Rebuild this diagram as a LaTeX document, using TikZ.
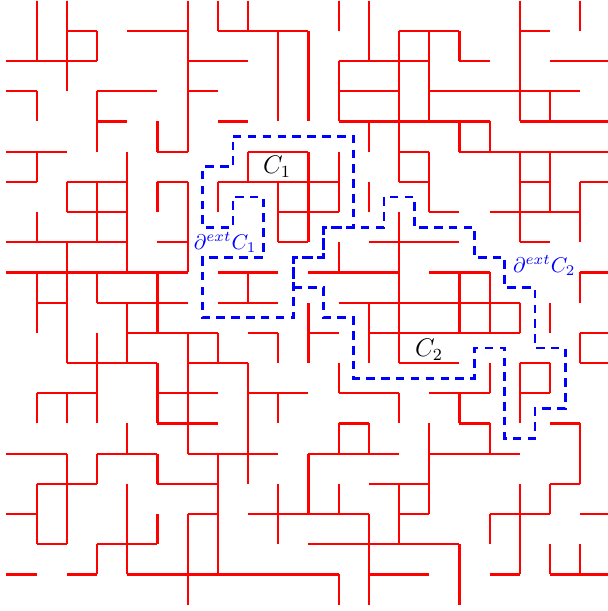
\documentclass[tikz,border=0pt]{standalone}
\usepackage{xcolor}
\usepackage{tikz}
\tikzstyle{openedge} = [red, line width=1pt]
\tikzstyle{dualpath} = [blue, line width=1.3pt, dash pattern=on 4pt off 3pt]
\tikzstyle{cluster}  = [font=\large, inner sep=1pt]
\tikzstyle{boundary} = [blue, inner sep=1pt]

\begin{document}
\begin{tikzpicture}[x=0.5cm, y=0.5cm]
  \useasboundingbox (-0.215,-0.209) rectangle (19.917,20.023);

  % Open horizontal edges (row j counted from the top)
  \foreach \j/\row in {1/{2,4,5,7,8,9,13,14,17},
                       2/{0,1,2,6,7,11,12,13,15,18,19},
                       3/{0,3,4,6,11,12,14,15,16,17,18},
                       4/{3,7,11,12,13,14,15,17,18,19},
                       5/{0,1,5,8,9,13,15,16,17,18,19},
                       6/{0,2,3,5,7,8,9,10,13,17,19},
                       7/{2,3,9,10,14,16,17,18},
                       8/{0,1,2,3,5,9,12,13,14,17},
                       9/{0,1,2,3,4,5,7,8,10,11,12,14,15,19},
                       10/{1,3,4,5,7,8,11,12,13,14,15,16},
                       11/{4,5,6,8,10,12,13,14,15,16,19},
                       12/{2,3,4,6,7,13,14,17,19},
                       13/{1,2,5,6,8,9,11,12,14,15,17},
                       14/{5,6,11,15,18},
                       15/{0,1,3,4,6,7,8,10,11,12,14,15,16},
                       16/{1,2,5,6,12,13,18},
                       17/{0,6,8,9,10,11,13,16,17,19},
                       18/{1,3,4,10,11,12,13,14},
                       19/{0,2,4,5,6,7,8,9,10,12,13,16,18,19}}
    \foreach \i in \row
      \draw[openedge] (\i,{20-\j}) -- ++(1,0);

  % Open vertical edges (column i, edge from row j down to row j+1)
  \foreach \i/\col in {1/{0,1,3,5,7,9,10,13,16,17},
                       2/{0,1,2,6,8,9,10,11,13,15,16,17},
                       3/{1,3,4,6,7,9,11,12,13,15,18},
                       4/{5,6,7,8,10,11,14,16,17,18},
                       5/{4,6,9,10,12,13,15,17},
                       6/{0,1,2,3,4,6,7,8,11,12,13,14,17,18,19},
                       7/{0,6,11,15,16,17,18},
                       8/{0,5,9,12,13,14,15},
                       9/{1,2,3,6,7,11,13,16,17},
                       10/{1,2,3,5,6,7,10,11,15,16},
                       11/{0,2,3,5,6,8,12,14,16,19},
                       12/{0,1,4,6,10,11,14,17,18,19},
                       13/{1,2,3,4,5,7,8,9,10,11,13,16,17},
                       14/{1,2,3,5,6,14,15,16},
                       15/{1,4,9,10,13,18,19},
                       16/{4,9,10,12,14,17},
                       17/{0,1,2,3,5,6,7,10,12,13,16,17,18},
                       18/{3,5,6,10,12,16,18},
                       19/{0,6,7,9,11,14,15,18}}
    \foreach \j in \col
      \draw[openedge] (\i,{20-\j}) -- ++(0,-1);

  % Exterior boundary of C1
  \draw[dualpath] (7.5,15.5) -- (11.5,15.5) -- (11.5,12.5) -- (10.5,12.5)
    -- (10.5,11.5) -- (9.5,11.5) -- (9.5,9.5) -- (6.5,9.5) -- (6.5,11.5)
    -- (8.5,11.5) -- (8.5,13.5) -- (7.5,13.5) -- (7.5,12.5) -- (6.5,12.5)
    -- (6.5,14.5) -- (7.5,14.5) -- cycle;

  % Exterior boundary of C2
  \draw[dualpath] (9.5,10.5) -- (10.5,10.5) -- (10.5,9.5) -- (11.5,9.5)
    -- (11.5,7.5) -- (15.5,7.5) -- (15.5,8.5) -- (16.5,8.5) -- (16.5,5.5)
    -- (17.5,5.5) -- (17.5,6.5) -- (18.5,6.5) -- (18.5,8.5) -- (17.5,8.5)
    -- (17.5,10.5) -- (16.5,10.5) -- (16.5,11.5) -- (15.5,11.5) -- (15.5,12.5)
    -- (13.5,12.5) -- (13.5,13.5) -- (12.5,13.5) -- (12.5,12.5) -- (10.5,12.5)
    -- (10.5,11.5) -- (9.5,11.5) -- cycle;

  % Labels
  \node[cluster] (c1) at (8.96,14.5) {$C_1$};
  \node[cluster] (c2) at (13.99,8.43) {$C_2$};
  \node[boundary] (dc1) at (7.24,12.0) {$\partial^{ext}C_1$};
  \node[boundary] (dc2) at (17.81,11.22) {$\partial^{ext}C_2$};
\end{tikzpicture}
\end{document}
